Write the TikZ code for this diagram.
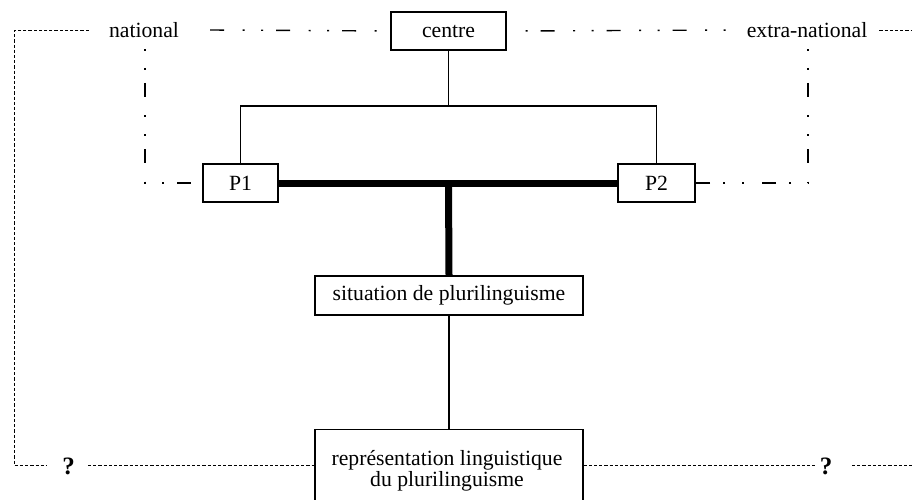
\documentclass[tikz,border=0pt]{standalone}
\usepackage{fontspec}
\setmainfont{Liberation Serif}
\usetikzlibrary{calc}
\begin{document}
\begin{tikzpicture}[x=1pt,y=-1pt,
  every node/.style={font=\fontsize{21.7}{23}\selectfont, inner sep=0pt},
  box/.style={draw, line width=1.2pt, minimum width=#1, anchor=center},
  label/.style={anchor=center},
  query/.style={anchor=center, font=\fontsize{25}{27}\selectfont\bfseries},
  link/.style={line width=1.2pt},
  heavy/.style={line width=7pt},
  dashdot/.style={line width=1.4pt, dash pattern=on 14pt off 18.5pt on 2pt off 16.5pt on 2pt off 13pt},
  dotline/.style={line width=1pt, dash pattern=on 3.2pt off 2pt}]
\useasboundingbox (0,0) rectangle (912,500);
\clip (0,0) rectangle (912,500);

% boxes
\node[box=115pt, minimum height=38pt] (centre) at (448.5,31) {centre};
\node[box=75pt, minimum height=38pt] (p1) at (240.5,183) {P1};
\node[box=77pt, minimum height=38pt] (p2) at (656.5,183) {P2};
\node[box=268pt, minimum height=39pt] (sit) at (449,295.5) {situation de plurilinguisme};
\node[box=268pt, minimum height=100pt, anchor=north] (rep) at (449,429) {};
\node[label, align=center, font=\fontsize{21.7}{21}\selectfont] (reptext) at (447,471)
  {représentation linguistique\\du plurilinguisme};

% side labels
\node[label] (nat) at (144,30) {national};
\node[label] (extra) at (807,30) {extra-national};
\node[query] (q1) at (68.5,466) {?};
\node[query] (q2) at (826,466) {?};

% hierarchy links
\coordinate (fork) at (448.5,106);
\draw[link] (centre.south) -- (fork);
\draw[link] (p1.north) |- (fork) -| (p2.north);
\draw[heavy] (p1.east) -- (p2.west);
\draw[heavy] (448.5,183) -- (sit.north);
\draw[link] (sit.south) -- (rep.north);

% national / extra-national frame
\draw[dashdot] ($(nat.east)+(31,0)$) -- (centre.west);
\draw[dashdot, dash phase=35pt] ($(centre.east)+(3,0)$) -- ($(extra.west)+(-9,0)$);
\coordinate (nl) at (145,183);
\coordinate (xr) at (808,183);
\draw[dashdot, dash phase=31pt] (145,48) -- (nl) -- (p1.west);
\draw[dashdot, dash phase=31pt] (808,48) -- (xr) -- (p2.east);

% outer dotted frame
\coordinate (tl) at (14,31);
\coordinate (bl) at (14,465);
\draw[dotline] ($(nat.west)+(-20,1)$) -- (tl) -- (bl) -- (46,465);
\draw[dotline] (88,465) -- (rep.west |- bl);
\draw[dotline] (rep.east |- bl) -- (815,465);
\draw[dotline] (852,465) -- (912,465);
\draw[dotline] ($(extra.east)+(12,1)$) -- (912,31);
\end{tikzpicture}
\end{document}
